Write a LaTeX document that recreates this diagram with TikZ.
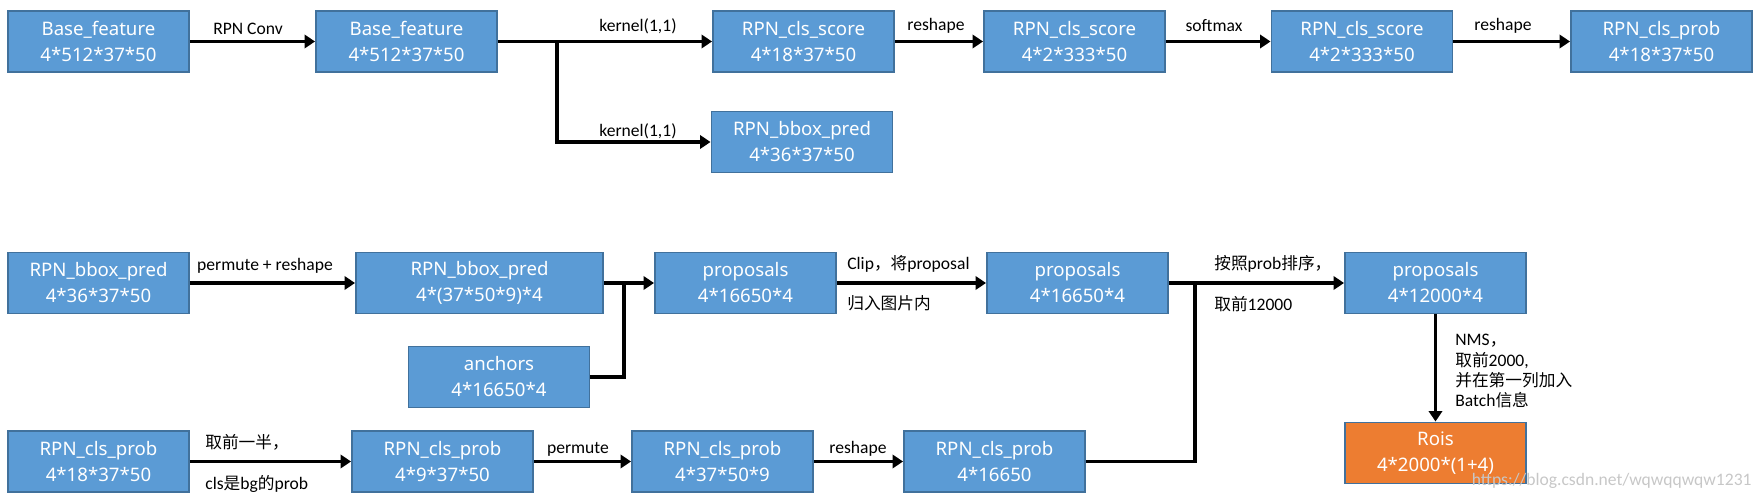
\documentclass[tikz,border=0pt]{standalone}
\usepackage{fontspec}
\setmainfont{Carlito}
\newfontfamily\cjk[Scale=0.95]{Noto Sans CJK SC}
\newfontfamily\boxfont{Noto Sans}
\usetikzlibrary{arrows.meta,positioning}
\definecolor{boxblue}{HTML}{5B9BD5}
\definecolor{boxline}{HTML}{41719C}
\definecolor{boxorange}{HTML}{ED7D31}
\newcommand\tns[2]{#1\\#2}

\begin{document}
\begin{tikzpicture}[x=0.02cm,y=-0.02cm,
        flow/.style={line width=2.1pt,-{Triangle[length=6pt,width=7.6pt]}},
        wire/.style={line width=2.1pt},
        lbl/.style={font=\fontsize{10}{11.6}\selectfont,inner sep=0pt}]%
        \useasboundingbox (0,0) rectangle (1759,501);
        \begin{scope}
        \tikzstyle{every node}=[draw=boxline,fill=boxblue,line width=1.1pt,text=white,align=center,
            minimum width=3.62cm,minimum height=1.22cm,inner sep=0pt,font=\boxfont\fontsize{10.6}{14.8}\selectfont] %%
        \node (bf1) at (98.5,41.5)  {\tns{Base\_feature}{4*512*37*50}}; %%
        \node (bf2) at (406.5,41.5)  {\tns{Base\_feature}{4*512*37*50}}; %%
        \node (cs1) at (803.5,41.5)  {\tns{RPN\_cls\_score}{4*18*37*50}}; %%
        \node (cs2) at (1074.5,41.5)  {\tns{RPN\_cls\_score}{4*2*333*50}}; %%
        \node (cs3) at (1362,41.5)  {\tns{RPN\_cls\_score}{4*2*333*50}}; %%
        \node (cp1) at (1661.5,41.5)  {\tns{RPN\_cls\_prob}{4*18*37*50}}; %%
        \node (bp1) at (802,142)  {\tns{RPN\_bbox\_pred}{4*36*37*50}}; %%
        \node (bp2) at (98.5,283)  {\tns{RPN\_bbox\_pred}{4*36*37*50}}; %%
        \node[minimum width=4.94cm] (bp3) at (479.5,283)  {\tns{RPN\_bbox\_pred}{4*(37*50*9)*4}}; %%
        \node (pr1) at (745.5,283)  {\tns{proposals}{4*16650*4}}; %%
        \node (pr2) at (1077.5,283)  {\tns{proposals}{4*16650*4}}; %%
        \node (pr3) at (1435.5,283)  {\tns{proposals}{4*12000*4}}; %%
        \node (an) at (499,377)  {\tns{anchors}{4*16650*4}}; %%
        \node (cp2) at (98.5,461.5)  {\tns{RPN\_cls\_prob}{4*18*37*50}}; %%
        \node (cp3) at (442.5,461.5)  {\tns{RPN\_cls\_prob}{4*9*37*50}}; %%
        \node (cp4) at (722.5,461.5)  {\tns{RPN\_cls\_prob}{4*37*50*9}}; %%
        \node (cp5) at (994.5,461.5)  {\tns{RPN\_cls\_prob}{4*16650}}; %%
        \node[fill=boxorange] (rois) at (1435.5,453)  {\tns{Rois}{4*2000*(1+4)}}; %%
        \end{scope}
        \coordinate (j1) at (557,41.5); %%
        \coordinate (j2) at (624,283); %%
        \coordinate (j3) at (1195,283); %%
        % edge labels
        \node[lbl] (lconv) at (248,29) {RPN Conv}; %%
        \node[lbl] (lk1) at (638,26) {kernel(1,1)}; %%
        \node[lbl] (lk2) at (638,131) {kernel(1,1)}; %%
        \node[lbl] (lrs1) at (936,26) {reshape}; %%
        \node[lbl] (lsm) at (1214,26) {softmax}; %%
        \node[lbl] (lrs2) at (1503,26) {reshape}; %%
        \node[lbl] (lpr) at (265,266) {permute + reshape}; %%
        \node[lbl,anchor=west] (lclip) at (847,264) {Clip{\cjk ，将}proposal}; %%
        \node[lbl,anchor=west] (lclip2) at (847,303) {\cjk 归入图片内}; %%
        \node[lbl,anchor=west] (lsort) at (1214,264) {{\cjk 按照}prob{\cjk 排序，}}; %%
        \node[lbl,anchor=west] (ltop) at (1214,304) {{\cjk 取前}12000}; %%
        \node[lbl,anchor=west] (lhalf) at (205,442) {\cjk 取前一半，}; %%
        \node[lbl,anchor=west] (lbg) at (205,484) {cls{\cjk 是}bg{\cjk 的}prob}; %%
        \node[lbl] (lperm) at (578,449) {permute}; %%
        \node[lbl] (lrs3) at (858,449) {reshape}; %%
        \node[lbl,anchor=north west,align=left] (lnms) at (1455,334)
            {NMS{\cjk ，}\\{\cjk 取前}2000,\\{\cjk 并在第一列加入}\\Batch{\cjk 信息}}; %%
        \node[font=\fontsize{10}{12}\selectfont,text=black!22,anchor=east,inner sep=0pt] (wm)
            at (1752,481) {https://blog.csdn.net/wqwqqwqw1231}; %%
        % connectors
        \draw[flow] (bf1)--(bf2); %%
        \draw[flow] (bf2)--(cs1); %%
        \draw[flow] (j1) |- (bp1); %%
        \draw[flow] (cs1)--(cs2); %%
        \draw[flow] (cs2)--(cs3); %%
        \draw[flow] (cs3)--(cp1); %%
        \draw[flow] (bp2)--(bp3); %%
        \draw[flow] (bp3)--(pr1); %%
        \draw[wire] (an) -| (j2); %%
        \draw[flow] (pr1)--(pr2); %%
        \draw[flow] (pr2)--(pr3); %%
        \draw[wire] (cp5) -| (j3); %%
        \draw[flow] (pr3)--(rois); %%
        \draw[flow] (cp2)--(cp3); %%
        \draw[flow] (cp3)--(cp4); %%
        \draw[flow] (cp4)--(cp5); %%
\end{tikzpicture}
\end{document}
